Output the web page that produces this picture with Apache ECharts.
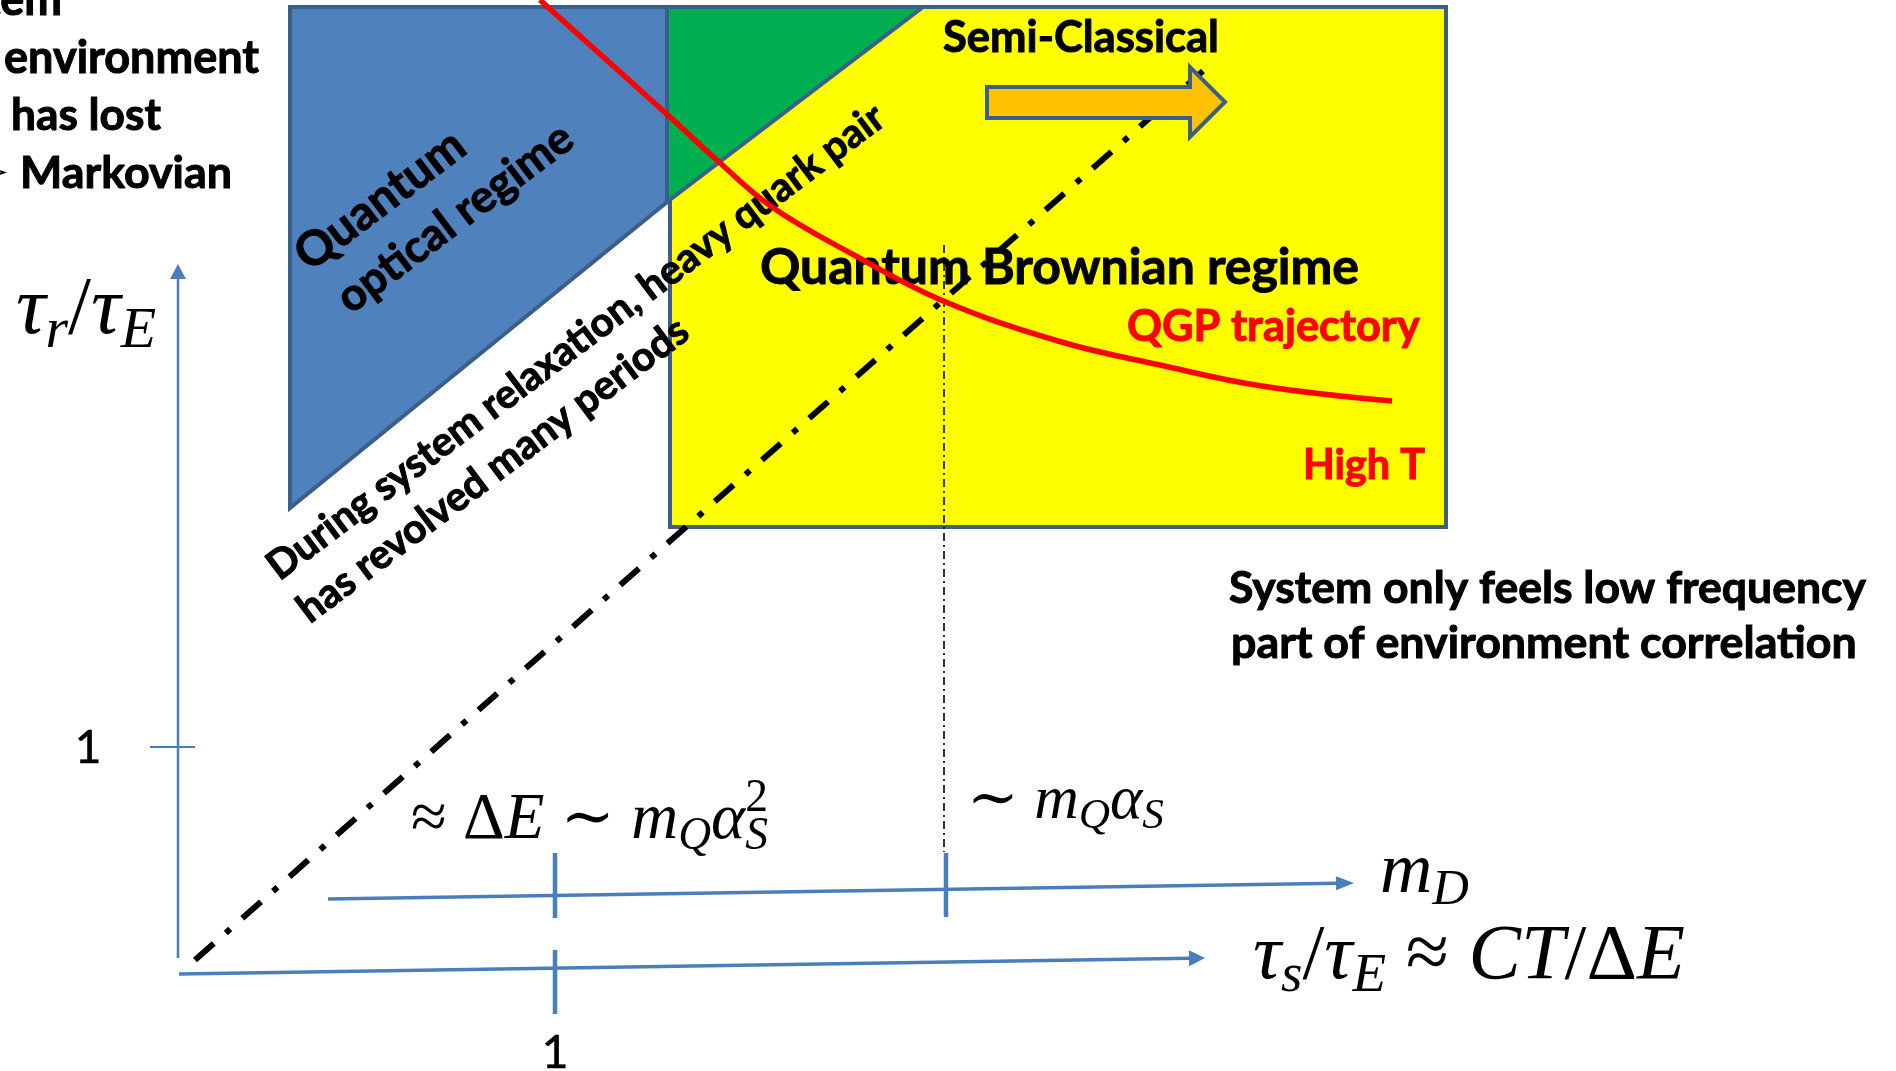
<!DOCTYPE html>
<html><head><meta charset="utf-8">
<script src="https://cdn.jsdelivr.net/npm/echarts@6/dist/echarts.min.js"></script>
<style>html,body{margin:0;padding:0;background:#fff;overflow:hidden}#c{width:1896px;height:1071px;}</style>
</head><body><div id="c"></div>
<script>
// ---- diagram data (diagram units: x to the right, y downward) ----
const yellowBox = [[670,7],[1446,7],[1446,527],[670,527]];
const greenTriangle = [[667,7],[923,7],[667,202]];
const blueRegion = [[290,7],[667,7],[667,202],[290,508]];
const orangeArrow = [[987,87],[1190,87],[1190,67],[1225,102],[1190,137],[1190,118],[987,118]];
const qgpX = [540,600,670,719,772,854,941,1058,1160,1262,1392];
const qgpY = [0,54,117,162,207,255,300,341,365,386,401];
const diagonal = [[195,960],[1203,71]];
const mqLine = [[944,245],[944,852]];
const axisVertical = [[178,958],[178,264]];
const axisTau = [[179,974],[1205,958]];
const axisMD = [[328,899],[1354,883]];
const tickVertical = [[150,747],[195,747]];
const tickTau = [[555,950],[555,1014]];
const tickMD = [[[555,853],[555,918]],[[946,853],[946,917]]];
const tickLabels = ['1','1'];
const leftNote = ['System','environment','has lost','Markovian'];
const regionLabels = ['Semi-Classical','Quantum Brownian regime','QGP trajectory','High T'];
const opticalLabel = ['Quantum','optical regime'];
const relaxLabel = ['During system relaxation, heavy quark pair','has revolved many periods'];
const noteRight = ['System only feels low frequency','part of environment correlation'];

const BOLD = 'Lato, "Open Sans", sans-serif';
const SERIF = '"Liberation Serif", "DejaVu Serif", serif';
const OUTLINE = '#3A5F8B';
const AXIS = '#4A7EBB';

const cv = document.createElement('canvas').getContext('2d');
function textW(text, font){ cv.font = font; return cv.measureText(text).width; }
function fitBold(text, width){ return 100*width/textW(text, `bold 100px ${BOLD}`); }
function midOff(font, size){
  cv.font = font; cv.textBaseline='alphabetic';
  const a = cv.measureText('Hg').fontBoundingBoxAscent;
  cv.textBaseline='middle';
  const b = cv.measureText('Hg').fontBoundingBoxAscent;
  cv.textBaseline='alphabetic';
  const d = a - b;
  return isFinite(d) ? d : 0.33*size;
}
const graphics = [];
function boldText(text, x, baseline, width, color, align, size){
  const fs = size || fitBold(text, width);
  const font = `bold ${fs}px ${BOLD}`;
  const c = color || '#000';
  graphics.push({type:'text', z:30, x, y: baseline - midOff(font, fs), silent:true,
    style:{text, font, fill:c, stroke:c, lineWidth:1, align:align||'left', verticalAlign:'middle'}});
  return fs;
}
function rotText(text, cx, cy, len, deg){
  const fs = fitBold(text, len);
  graphics.push({type:'text', z:30, x:cx, y:cy, rotation:deg*Math.PI/180, silent:true,
    style:{text, font:`bold ${fs}px ${BOLD}`, fill:'#000', stroke:'#000', lineWidth:1, align:'center', verticalAlign:'middle'}});
}
// math layout: pieces [text, kind]; kind: i (italic), r (roman), sub, sup (stacked above previous sub)
function mathText(pieces, left, baseline, width){
  const fontOf = (k, F) => {
    const small = (k==='sub'||k==='sup');
    const fs = small ? F*0.7 : F;
    const it = (k==='i'||k==='sub');
    return [`${it?'italic ':''}${fs}px ${SERIF}`, fs];
  };
  const natural = F => { let x=0, subX=null, subW=0;
    pieces.forEach(([t,k]) => { const [f] = fontOf(k,F); const w = textW(t,f);
      if(k==='sup' && subX!==null){ x = subX + Math.max(subW, w); } else { if(k==='sub'){subX=x; subW=w;} else {subX=null;} x += w; } });
    return x; };
  const F = 100*width/natural(100);
  let x = left, subX=null, subW=0;
  pieces.forEach(([t,k]) => {
    const [f, fs] = fontOf(k,F); const w = textW(t,f);
    let px = x, b = baseline;
    if(k==='sub'){ b = baseline + 0.17*F; subX = x; subW = w; x += w; }
    else if(k==='sup'){ b = baseline - 0.42*F; if(subX!==null){ px = subX; x = subX + Math.max(subW,w);} else { x += w; } }
    else { subX=null; x += w; }
    graphics.push({type:'text', z:30, x:px, y:b - midOff(f, fs), silent:true,
      style:{text:t, font:f, fill:'#000', align:'left', verticalAlign:'middle'}});
  });
}

// ---- texts ----
const envSize = fitBold(leftNote[1], 255);
boldText(leftNote[0], 62, 15, 0, '#000', 'right', envSize);
boldText(leftNote[1], 4, 73, 255);
boldText(leftNote[2], 11, 130, 150);
boldText(leftNote[3], 20, 188, 212);
graphics.push({type:'text', z:30, x:9, y:175, silent:true,
  style:{text:'➢', font:`bold 40px "DejaVu Sans"`, fill:'#000', align:'right', verticalAlign:'middle'}});
boldText(regionLabels[0], 943, 52, 276);
boldText(regionLabels[1], 760, 284, 599);
boldText(regionLabels[2], 1127, 341, 293, '#FF0000');
boldText(regionLabels[3], 1303, 479, 122, '#FF0000');
boldText(noteRight[0], 1229, 603, 637);
boldText(noteRight[1], 1231, 658, 626);
rotText(opticalLabel[0], 380, 200, 200, 37);
rotText(opticalLabel[1], 455, 218, 283, 37);
rotText(relaxLabel[0], 576, 342, 762, 37);
rotText(relaxLabel[1], 493, 470, 478, 37);
// math labels
mathText([['τ','i'],['r','sub'],['/','r'],['τ','i'],['E','sub']], 16, 333, 140);
mathText([['≈ ','r'],['Δ','r'],['E','i'],[' ∼ ','r'],['m','i'],['Q','sub'],['α','i'],['S','sub'],['2','sup']], 411, 838, 357);
mathText([['∼ ','r'],['m','i'],['Q','sub'],['α','i'],['S','sub']], 967, 818, 197);
mathText([['m','i'],['D','sub']], 1380, 892, 89);
mathText([['τ','i'],['s','sub'],['/','r'],['τ','i'],['E','sub'],[' ≈ ','r'],['C','i'],['T','i'],['/','r'],['Δ','r'],['E','i']], 1253, 978, 432);
// tick labels
[[88,763],[555,1068]].forEach((p,i) => {
  const font = `46px ${BOLD}`;
  graphics.push({type:'text', z:30, x:p[0], y:p[1]-midOff(font,46), silent:true,
    style:{text:tickLabels[i], font, fill:'#000', stroke:'#000', lineWidth:0.6, align:'center', verticalAlign:'middle'}});
});

// ---- series builders ----
function polySeries(points, fill, z){
  return {type:'custom', z, silent:true, clip:false, data:[[0,0]],
    renderItem:(p, api) => ({type:'polygon', shape:{points: points.map(pt => api.coord(pt))},
      style:{fill, stroke:OUTLINE, lineWidth:4, lineJoin:'miter'}})};
}
function arrowAxis(seg, width, hl, hw){
  return {type:'custom', z:8, silent:true, clip:false, data:[[0,0]],
    renderItem:(p, api) => {
      const A = api.coord(seg[0]), B = api.coord(seg[1]);
      const dx=B[0]-A[0], dy=B[1]-A[1], L=Math.hypot(dx,dy), ux=dx/L, uy=dy/L;
      const bx=B[0]-ux*hl, by=B[1]-uy*hl;
      return {type:'group', children:[
        {type:'line', shape:{x1:A[0],y1:A[1],x2:bx+ux*1,y2:by+uy*1}, style:{stroke:AXIS, lineWidth:width}},
        {type:'polygon', shape:{points:[B,[bx-uy*hw,by+ux*hw],[bx+uy*hw,by-ux*hw]]}, style:{fill:AXIS}}
      ]};
    }};
}
function tickSeries(segs, width){
  return {type:'custom', z:8, silent:true, clip:false, data:[[0,0]],
    renderItem:(p, api) => ({type:'group', children: segs.map(s => {
      const A = api.coord(s[0]), B = api.coord(s[1]);
      return {type:'line', shape:{x1:A[0],y1:A[1],x2:B[0],y2:B[1]}, style:{stroke:AXIS, lineWidth:width}};
    })})};
}

const option = {
  animation:false,
  backgroundColor:'#ffffff',
  grid:{left:0,right:0,top:0,bottom:0},
  xAxis:{type:'value', min:0, max:1896, show:false},
  yAxis:{type:'value', min:0, max:1071, inverse:true, show:false},
  series:[
    polySeries(yellowBox, '#FFFF00', 2),
    polySeries(greenTriangle, '#00B050', 3),
    polySeries(blueRegion, '#4F81BD', 4),
    {type:'line', z:6, silent:true, data:diagonal, showSymbol:false, symbol:'none',
      lineStyle:{color:'#000', width:6, type:[25,16,6,16], cap:'butt'}},
    polySeries(orangeArrow, '#FFC000', 7),
    {type:'line', z:6, silent:true, data:mqLine, showSymbol:false, symbol:'none',
      lineStyle:{color:'#000', width:1.6, type:[8,4,2,4]}},
    arrowAxis(axisVertical, 2.5, 15, 8),
    arrowAxis(axisTau, 3.5, 16, 8),
    arrowAxis(axisMD, 3.5, 18, 7),
    tickSeries([tickVertical], 2),
    tickSeries([tickTau].concat(tickMD), 4.5),
    {type:'line', z:40, silent:true, data:qgpX.map((x,i)=>[x,qgpY[i]]), smooth:0.4, showSymbol:false, symbol:'none',
      lineStyle:{color:'#FF0000', width:5.5}}
  ],
  graphic: graphics
};
const chart = echarts.init(document.getElementById('c'), null, {renderer:'canvas'});
chart.setOption(option);
</script>
</body></html>
